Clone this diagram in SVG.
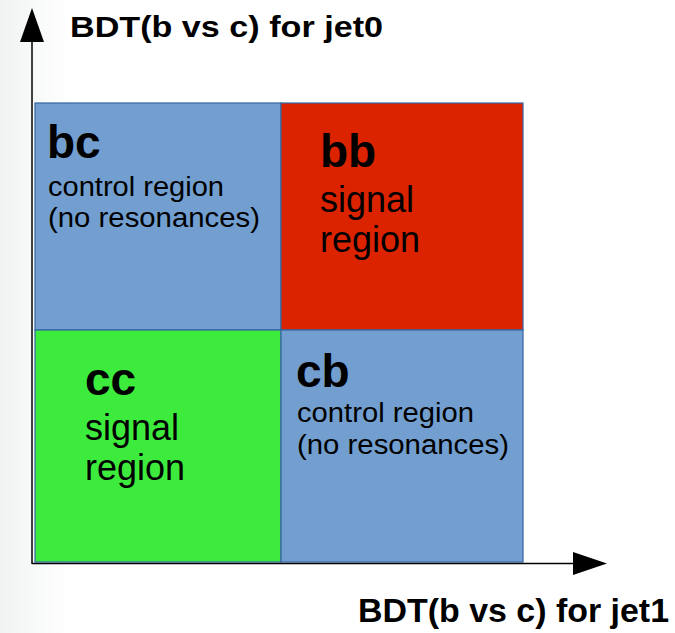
<svg xmlns="http://www.w3.org/2000/svg" width="675" height="633" viewBox="0 0 675 633">
<defs>
<linearGradient id="bg" x1="0" y1="0" x2="1" y2="0">
<stop offset="0" stop-color="#f1f3f3"/>
<stop offset="1" stop-color="#ffffff"/>
</linearGradient>
<style>
.q{stroke:#3465a4;stroke-width:1.2}
.t{font-family:"Liberation Sans",Arial,sans-serif;fill:#000}
.h{font-weight:bold;font-size:46px}
.s{font-size:27px}
.m{font-size:36px}
.ax{font-family:"Liberation Sans",Arial,sans-serif;font-weight:bold;fill:#000}
.axl{stroke:#000;stroke-width:1.5;fill:none}
</style>
</defs>
<rect x="0" y="0" width="675" height="633" fill="#ffffff"/>
<rect x="0" y="0" width="70" height="633" fill="url(#bg)"/>
<g id="bc">
<rect class="q" x="35" y="103" width="246" height="227" fill="#729fcf"/>
<text class="t h" x="47" y="158">bc</text>
<text class="t s" x="48" y="196" textLength="176" lengthAdjust="spacingAndGlyphs">control region</text>
<text class="t s" x="48" y="227" textLength="212" lengthAdjust="spacingAndGlyphs">(no resonances)</text>
</g>
<g id="bb">
<rect class="q" x="281" y="103" width="242" height="227" fill="#dc2300"/>
<text class="t h" x="320" y="167">bb</text>
<text class="t m" x="320" y="212">signal</text>
<text class="t m" x="320" y="252">region</text>
</g>
<g id="cc">
<rect class="q" x="35" y="330" width="246" height="232" fill="#3deb3d"/>
<text class="t h" x="85" y="395">cc</text>
<text class="t m" x="85" y="440">signal</text>
<text class="t m" x="85" y="480">region</text>
</g>
<g id="cb">
<rect class="q" x="281" y="330" width="242" height="232" fill="#729fcf"/>
<text class="t h" x="296" y="387">cb</text>
<text class="t s" x="297" y="422" textLength="177" lengthAdjust="spacingAndGlyphs">control region</text>
<text class="t s" x="297" y="454" textLength="212" lengthAdjust="spacingAndGlyphs">(no resonances)</text>
</g>
<g id="connectors">
<line class="axl" x1="32" y1="564" x2="32" y2="40"/>
<polygon points="32,8 20,42 44,42" fill="#000"/>
<line class="axl" x1="32" y1="563.5" x2="575" y2="563.5"/>
<polygon points="607,563.5 573,552 573,575" fill="#000"/>
</g>
<g id="labels">
<text class="ax" x="358" y="622" font-size="34" textLength="311" lengthAdjust="spacingAndGlyphs">BDT(b vs c) for jet1</text>
<text class="ax" x="70" y="37" font-size="30" textLength="313" lengthAdjust="spacingAndGlyphs">BDT(b vs c) for jet0</text>
</g>
</svg>
